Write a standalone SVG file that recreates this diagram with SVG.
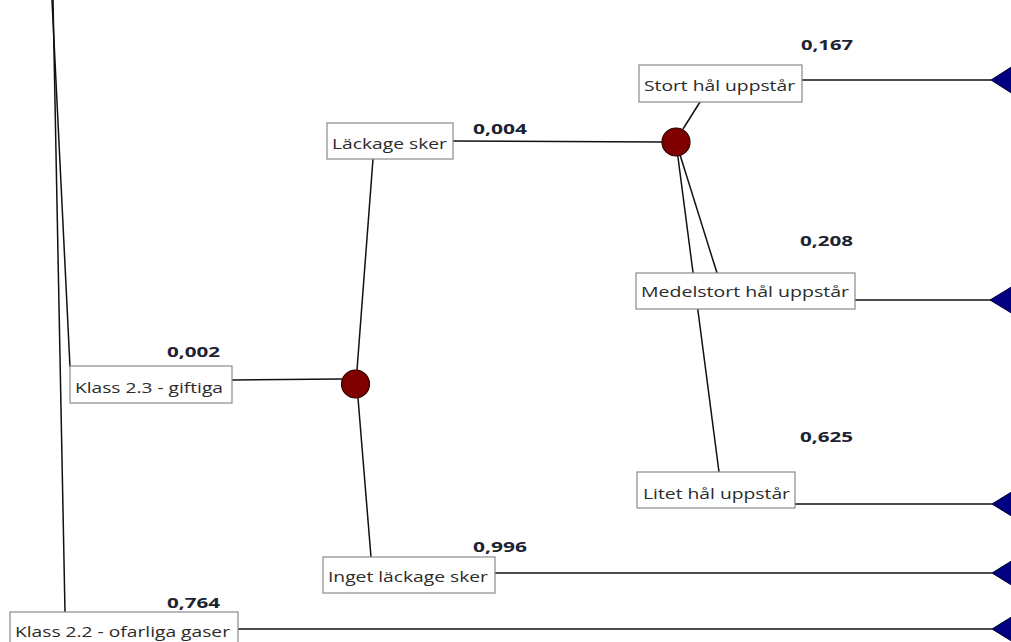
<svg xmlns="http://www.w3.org/2000/svg" width="1011" height="642" viewBox="0 0 1011 642">
  <style>
    .edge { stroke: #111; stroke-width: 1.5; fill: none; }
    .box { fill: #fff; stroke: #8a8a8a; stroke-width: 1.2; }
    .lbl { font-family: "Open Sans", "Liberation Sans", sans-serif; font-size: 15px; fill: #2b2b2b; }
    .prob { font-family: "Open Sans", "Liberation Sans", sans-serif; font-size: 15px; font-weight: bold; fill: #1c2333; }
    .chance { fill: #800000; stroke: #2a0000; stroke-width: 1.2; }
    .term { fill: #000080; stroke: #000030; stroke-width: 1; }
  </style>

  <!-- connectors -->
  <g id="connectors">
    <line class="edge" x1="52" y1="0" x2="70" y2="367"/>
    <line class="edge" x1="53" y1="0" x2="65" y2="612"/>
    <line class="edge" x1="232" y1="380" x2="342" y2="379"/>
    <line class="edge" x1="373" y1="159" x2="357" y2="370"/>
    <line class="edge" x1="358" y1="398" x2="371" y2="557"/>
    <line class="edge" x1="453" y1="141" x2="662" y2="142"/>
    <line class="edge" x1="683" y1="129" x2="700" y2="102"/>
    <line class="edge" x1="676" y1="142" x2="717" y2="273"/>
    <line class="edge" x1="676" y1="142" x2="719" y2="472"/>
    <line class="edge" x1="802" y1="80" x2="991" y2="80"/>
    <line class="edge" x1="855" y1="300" x2="991" y2="300"/>
    <line class="edge" x1="795" y1="504" x2="992" y2="504"/>
    <line class="edge" x1="495" y1="573" x2="992" y2="573"/>
    <line class="edge" x1="238" y1="629" x2="992" y2="629"/>
  </g>

  <!-- chance nodes -->
  <g id="chance-leak">
    <circle class="chance" cx="355.5" cy="384" r="14"/>
  </g>
  <g id="chance-hole">
    <circle class="chance" cx="676" cy="142" r="14"/>
  </g>

  <!-- terminal nodes -->
  <g id="end-stort"><polygon class="term" points="991,80 1013,66 1013,94"/></g>
  <g id="end-medel"><polygon class="term" points="990,300 1013,286 1013,314"/></g>
  <g id="end-litet"><polygon class="term" points="992,504 1013,491 1013,517"/></g>
  <g id="end-inget"><polygon class="term" points="992,573 1013,560 1013,586"/></g>
  <g id="end-klass22"><polygon class="term" points="992,629 1013,616 1013,642"/></g>

  <!-- branch labels -->
  <g id="klass23">
    <rect class="box" x="70" y="366" width="162" height="37"/>
    <text class="lbl" x="75" y="393" textLength="148" lengthAdjust="spacingAndGlyphs">Klass 2.3 - giftiga</text>
    <text class="prob" x="167" y="357" textLength="53" lengthAdjust="spacingAndGlyphs">0,002</text>
  </g>
  <g id="lackage">
    <rect class="box" x="327" y="123" width="126" height="36"/>
    <text class="lbl" x="332" y="149" textLength="115" lengthAdjust="spacingAndGlyphs">Läckage sker</text>
    <text class="prob" x="473" y="134" textLength="54" lengthAdjust="spacingAndGlyphs">0,004</text>
  </g>
  <g id="inget">
    <rect class="box" x="323" y="557" width="172" height="36"/>
    <text class="lbl" x="328" y="582" textLength="160" lengthAdjust="spacingAndGlyphs">Inget läckage sker</text>
    <text class="prob" x="473" y="552" textLength="54" lengthAdjust="spacingAndGlyphs">0,996</text>
  </g>
  <g id="stort">
    <rect class="box" x="639" y="65" width="163" height="37"/>
    <text class="lbl" x="644" y="91" textLength="151" lengthAdjust="spacingAndGlyphs">Stort hål uppstår</text>
    <text class="prob" x="801" y="50" textLength="52" lengthAdjust="spacingAndGlyphs">0,167</text>
  </g>
  <g id="medelstort">
    <rect class="box" x="636" y="273" width="219" height="36"/>
    <text class="lbl" x="641" y="297" textLength="208" lengthAdjust="spacingAndGlyphs">Medelstort hål uppstår</text>
    <text class="prob" x="800" y="246" textLength="53" lengthAdjust="spacingAndGlyphs">0,208</text>
  </g>
  <g id="litet">
    <rect class="box" x="637" y="472" width="158" height="36"/>
    <text class="lbl" x="643" y="499" textLength="147" lengthAdjust="spacingAndGlyphs">Litet hål uppstår</text>
    <text class="prob" x="800" y="442" textLength="53" lengthAdjust="spacingAndGlyphs">0,625</text>
  </g>
  <g id="klass22">
    <rect class="box" x="10" y="612" width="228" height="40"/>
    <text class="lbl" x="15" y="637" textLength="215" lengthAdjust="spacingAndGlyphs">Klass 2.2 - ofarliga gaser</text>
    <text class="prob" x="167" y="608" textLength="53" lengthAdjust="spacingAndGlyphs">0,764</text>
  </g>
</svg>
